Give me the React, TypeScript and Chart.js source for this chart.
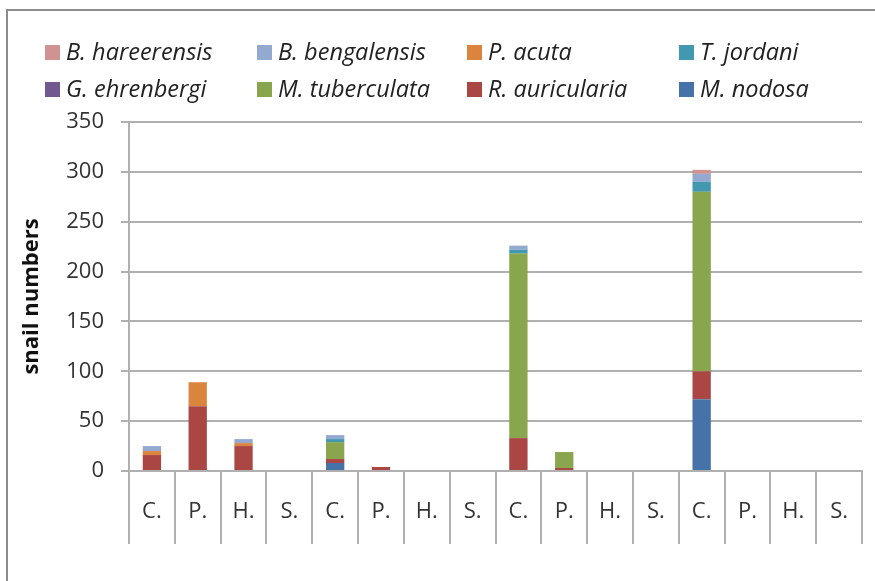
import React, { useEffect, useRef } from 'react';
import { Chart, registerables } from 'chart.js';

Chart.register(...registerables);

// ---- data ----
const categories = ['C.', 'P.', 'H.', 'S.', 'C.', 'P.', 'H.', 'S.', 'C.', 'P.', 'H.', 'S.', 'C.', 'P.', 'H.', 'S.'];
const mNodosa = [0, 0, 0, 0, 8, 0, 0, 0, 0, 0, 0, 0, 72, 0, 0, 0];
const rAuricularia = [16, 65, 25, 0, 4, 4, 0, 0, 33, 3, 0, 0, 28, 0, 0, 0];
const mTuberculata = [0, 0, 0, 0, 17, 0, 0, 0, 185, 16, 0, 0, 180, 0, 0, 0];
const gEhrenbergi = [0, 0, 0, 0, 0, 0, 0, 0, 0, 0, 0, 0, 0, 0, 0, 0];
const tJordani = [0, 0, 0, 0, 3, 0, 0, 0, 4, 0, 0, 0, 10, 0, 0, 0];
const pAcuta = [4, 24, 3, 0, 0, 0, 0, 0, 0, 0, 0, 0, 0, 0, 0, 0];
const bBengalensis = [5, 0, 4, 0, 4, 0, 0, 0, 4, 0, 0, 0, 8, 0, 0, 0];
const bHareerensis = [0, 0, 0, 0, 0, 0, 0, 0, 0, 0, 0, 0, 4, 0, 0, 0];
const yTickValues = [0, 50, 100, 150, 200, 250, 300, 350];
const yAxisTitle = 'snail numbers';

// stacking order bottom -> top
const seriesNames = ['M. nodosa', 'R. auricularia', 'M. tuberculata', 'G. ehrenbergi', 'T. jordani', 'P. acuta', 'B. bengalensis', 'B. hareerensis'];
const seriesValues = [mNodosa, rAuricularia, mTuberculata, gEhrenbergi, tJordani, pAcuta, bBengalensis, bHareerensis];

// ---- styles ----
const seriesColors = ['#4572A7', '#AA4643', '#89A54E', '#71588F', '#4198AF', '#DB843D', '#93A9CF', '#D19392'];
const FONT = '"Open Sans", "Noto Sans", sans-serif';
const TEXT = '#333333';
const LINE = '#b0b0b0';

const legendPlugin = {
  id: 'excelLegend',
  afterDraw(chart: any) {
    const ctx = chart.ctx;
    const ds = chart.data.datasets;
    const order = ds.map((_: any, i: number) => i).reverse();
    const colX = [45, 257, 467, 679];
    const rowY = [45, 82];
    ctx.save();
    ctx.font = `italic 23.5px ${FONT}`;
    ctx.textBaseline = 'alphabetic';
    ctx.textAlign = 'left';
    order.forEach((dsIndex: number, k: number) => {
      const col = k % 4;
      const row = Math.floor(k / 4);
      const x = colX[col];
      const y = rowY[row];
      ctx.fillStyle = ds[dsIndex].backgroundColor;
      ctx.fillRect(x, y, 15, 15);
      ctx.fillStyle = '#222222';
      ctx.fillText(ds[dsIndex].label, x + 21, y + 15);
    });
    ctx.restore();
  },
};

const framePlugin = {
  id: 'frame',
  beforeDraw(chart: any) {
    const ctx = chart.ctx;
    ctx.save();
    ctx.fillStyle = '#ffffff';
    ctx.fillRect(0, 0, chart.width, chart.height);
    ctx.strokeStyle = '#8c8c8c';
    ctx.lineWidth = 2;
    ctx.beginPath();
    ctx.moveTo(7, chart.height);
    ctx.lineTo(7, 10);
    ctx.lineTo(chart.width, 10);
    ctx.stroke();
    ctx.restore();
  },
};

export default function App() {
  const ref = useRef<HTMLCanvasElement | null>(null);

  useEffect(() => {
    if (!ref.current) return;
    const chart = new Chart(ref.current, {
      type: 'bar',
      data: {
        labels: categories,
        datasets: seriesNames.map((name, i) => ({
          label: name,
          data: seriesValues[i],
          backgroundColor: seriesColors[i],
          borderWidth: 0,
          barPercentage: 0.4,
          categoryPercentage: 1,
        })),
      },
      options: {
        animation: false,
        responsive: false,
        maintainAspectRatio: false,
        layout: { padding: { top: 122, right: 13, bottom: 37, left: 0 } },
        plugins: {
          legend: { display: false },
          tooltip: { enabled: false },
          title: { display: false },
        },
        scales: {
          x: {
            stacked: true,
            grid: {
              offset: true,
              drawOnChartArea: false,
              drawTicks: true,
              tickLength: 73,
              color: LINE,
              lineWidth: 2,
            },
            border: { color: LINE, width: 2 },
            ticks: {
              padding: -45,
              color: TEXT,
              font: { family: FONT, size: 22 },
              maxRotation: 0,
              autoSkip: false,
            },
            afterFit(scale: any) {
              scale.height = 73;
            },
          },
          y: {
            stacked: true,
            min: 0,
            max: 350,
            afterBuildTicks(scale: any) {
              scale.ticks = yTickValues.map((v) => ({ value: v }));
            },
            grid: {
              color: LINE,
              lineWidth: 2,
              drawTicks: true,
              tickLength: 8,
            },
            border: { color: LINE, width: 2 },
            ticks: {
              padding: 17,
              color: TEXT,
              font: { family: FONT, size: 22 },
            },
            title: {
              display: true,
              text: yAxisTitle,
              color: '#111111',
              font: { family: FONT, size: 22, weight: 'bold' },
              padding: { top: 19, bottom: 0 },
            },
            afterFit(scale: any) {
              scale.width = 129;
            },
          },
        },
      },
      plugins: [framePlugin, legendPlugin],
    });
    return () => chart.destroy();
  }, []);

  return (
    <div style={{ position: 'fixed', left: 0, top: 0, width: 875, height: 581, background: '#fff' }}>
      <canvas ref={ref} width={875} height={581} style={{ width: 875, height: 581, display: 'block' }} />
    </div>
  );
}
